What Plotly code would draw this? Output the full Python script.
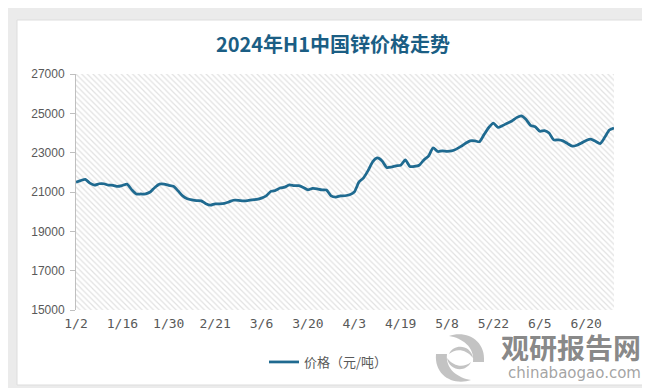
import pandas as pd
import plotly.graph_objects as go

# ---------------- data ----------------
holidays = ["2024-01-01", "2024-02-09", "2024-02-12", "2024-02-13", "2024-02-14",
            "2024-02-15", "2024-02-16", "2024-04-04", "2024-04-05", "2024-05-01",
            "2024-05-02", "2024-05-03", "2024-06-10"]
trade_days = pd.bdate_range("2024-01-02", "2024-06-28", freq="C", holidays=holidays)
categories = [f"{d.month}/{d.day}" for d in trade_days]

prices = [
    21500, 21580, 21640, 21450, 21350, 21420, 21420, 21350, 21340, 21280,
    21330, 21400, 21120, 20900, 20900, 20900, 21000, 21230, 21400, 21400,
    21340, 21290, 21060, 20800, 20660, 20600, 20560, 20550, 20400, 20330,
    20400, 20400, 20420, 20500, 20580, 20580, 20550, 20560, 20600, 20620,
    20690, 20800, 21030, 21080, 21200, 21250, 21360, 21330, 21320, 21230,
    21110, 21180, 21160, 21110, 21100, 20800, 20740, 20800, 20810, 20860,
    21000, 21500, 21720, 22100, 22550, 22730, 22580, 22250, 22270, 22330,
    22360, 22630, 22300, 22300, 22360, 22630, 22820, 23250, 23060, 23090,
    23070, 23090, 23180, 23320, 23480, 23600, 23600, 23560, 23930, 24280,
    24500, 24280, 24380, 24500, 24610, 24780, 24870, 24700, 24390, 24320,
    24090, 24120, 24000, 23650, 23650, 23600, 23460, 23330, 23380, 23490,
    23620, 23690, 23580, 23460, 23780, 24150, 24250,
]

tick_labels = ["1/2", "1/16", "1/30", "2/21", "3/6", "3/20", "4/3", "4/19",
               "5/8", "5/22", "6/5", "6/20"]
y_ticks = [15000, 17000, 19000, 21000, 23000, 25000, 27000]

title_text = "2024年H1中国锌价格走势"
series_name = "价格（元/吨）"

# ---------------- layout constants ----------------
W, H = 650, 388
ML, MR, MT, MB = 68, 44, 66, 86
PW, PH = W - ML - MR, H - MT - MB


def px_x(px):
    return (px - ML) / PW


def px_y(py):
    return (H - MB - py) / PH


LINE_COLOR = "#1f6a90"
GREY_TXT = "#595959"

fig = go.Figure()

# hatched plot-area background (decorative), spanning the full axis ranges
fig.add_trace(go.Scatter(
    x=[categories[0], categories[-1], categories[-1], categories[0], categories[0]],
    y=[y_ticks[0], y_ticks[0], y_ticks[-1], y_ticks[-1], y_ticks[0]],
    mode="lines", line=dict(width=0), fill="toself",
    fillcolor="white",
    fillpattern=dict(shape="\\", fgcolor="#c4c4c4", bgcolor="white",
                     size=4, solidity=0.3),
    hoverinfo="skip", showlegend=False,
))

fig.add_trace(go.Scatter(
    x=categories, y=prices, mode="lines", name=series_name,
    line=dict(color=LINE_COLOR, width=2.75, shape="spline", smoothing=0.6),
))

fig.update_layout(
    width=W, height=H,
    margin=dict(l=ML, r=MR, t=MT, b=MB, autoexpand=False),
    paper_bgcolor="#ebebeb",
    plot_bgcolor="white",
    title=dict(text=f"<b>{title_text}</b>", x=0.5, xanchor="center",
               y=1 - 37 / H, yanchor="middle",
               font=dict(family="Noto Sans CJK SC", size=20, color="#1b5e84")),
    xaxis=dict(
        type="category", categoryorder="array", categoryarray=categories,
        range=[0, len(categories) - 1],
        tickmode="array", tickvals=tick_labels, ticktext=tick_labels,
        ticks="", showgrid=False, zeroline=False, showline=False,
        ticklabelstandoff=4,
        tickfont=dict(family="DejaVu Sans Mono", size=13, color=GREY_TXT),
    ),
    yaxis=dict(
        range=[y_ticks[0], y_ticks[-1]], tickmode="array", tickvals=y_ticks,
        tickformat="d",
        ticks="outside", ticklen=5, tickcolor="#bfbfbf", tickwidth=1,
        showline=True, linecolor="#bfbfbf", linewidth=1,
        showgrid=False, zeroline=False, ticklabelstandoff=3,
        tickfont=dict(family="Liberation Sans", size=12, color=GREY_TXT),
    ),
    legend=dict(orientation="h", x=px_x(256), xanchor="left",
                y=px_y(354), yanchor="middle",
                bgcolor="rgba(0,0,0,0)",
                font=dict(family="Noto Sans CJK SC", size=13, color=GREY_TXT)),
    showlegend=True,
)

# white card with soft border
fig.add_shape(type="rect", xref="paper", yref="paper",
              x0=px_x(9), x1=px_x(642), y0=px_y(377), y1=px_y(12),
              fillcolor="white", line=dict(color="#dddddd", width=1),
              layer="below")

# watermark
fig.add_annotation(xref="paper", yref="paper", x=px_x(563), y=px_y(339),
                   xanchor="center", yanchor="middle",
                   text="<b>观研报告网</b>", showarrow=False,
                   font=dict(family="Noto Sans CJK SC", size=28,
                             color="rgba(105,105,105,0.8)"))
fig.add_annotation(xref="paper", yref="paper", x=px_x(566), y=px_y(365),
                   xanchor="center", yanchor="middle",
                   text="chinabaogao.com", showarrow=False,
                   font=dict(family="DejaVu Sans", size=15,
                             color="rgba(140,140,140,0.8)"))
# swirl logo (crescents), drawn in pixels around an anchor
logo_path_1 = "M -24,4 C -26,-18 -6,-28 11,-22 C -2,-20 -15,-11 -13,4 Z"
logo_path_2 = "M 24,-4 C 26,18 6,28 -11,22 C 2,20 15,11 13,-4 Z"
logo_path_3 = "M -13,0 C -11,-13 6,-15 11,-4 C 4,-10 -6,-9 -13,0 Z"
logo_path_4 = "M 13,0 C 11,13 -6,15 -11,4 C -4,10 6,9 13,0 Z"
for p in (logo_path_1, logo_path_2, logo_path_3, logo_path_4):
    fig.add_shape(type="path", path=p, xref="paper", yref="paper",
                  xsizemode="pixel", ysizemode="pixel",
                  xanchor=px_x(452), yanchor=px_y(350),
                  fillcolor="rgba(175,175,175,0.75)", line=dict(width=0))

fig.write_html("out.html")
